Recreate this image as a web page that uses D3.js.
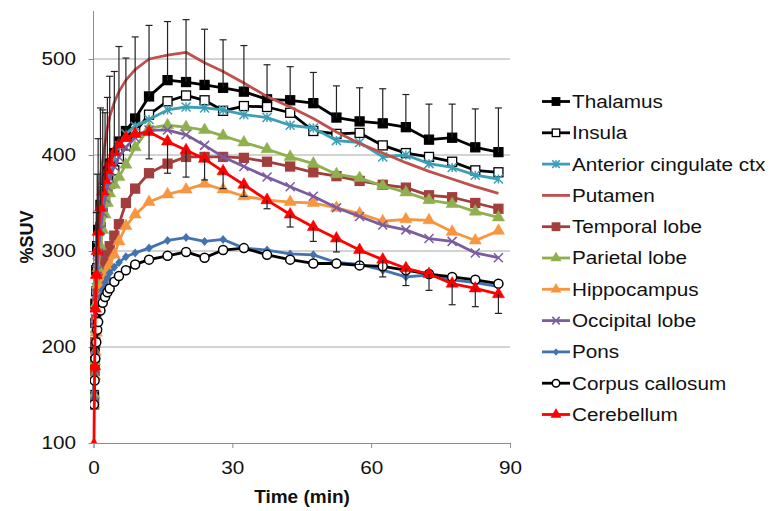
<!DOCTYPE html>
<html lang='en'>
<head>
  <title>%SUV time curves</title>
  <script src='https://cdn.jsdelivr.net/npm/d3@7'></script>
  <style>
    body { margin: 0; background: #fff; }
    text { font-family: "Liberation Sans", Arial, sans-serif; fill: #111; }
  </style>
</head>
<body>
  <script>
    // frame mid-times (min)
    const times = [0.1, 0.25, 0.4, 0.6, 0.8, 1.0, 1.5, 2, 2.5, 3, 3.5, 4.5, 5.5, 7, 9,
      12, 16, 20, 24, 28,
      32.5, 37.5, 42.5, 47.5, 52.5, 57.5, 62.5, 67.5, 72.5, 77.5, 82.5, 87.5];

    const thalamus = [150, 200, 245, 280, 305, 322, 348, 362, 374, 383, 391, 402, 414, 425, 438,
      461, 478, 476, 473, 470,
      466, 458, 457, 454, 439, 435, 433, 429, 416, 418, 408, 403];
    const thalamusErr = [0, 0, 0, 60, 75, 95, 101, 85, 70, 77, 91, 85, 99, 76, 85,
      74, 61, 65, 58, 50,
      48, 36, 35, 32, 33, 35, 36, 34, 37, 35, 40, 46];
    const insula = [145, 185, 225, 258, 282, 300, 325, 340, 352, 362, 370, 384, 396, 410, 424,
      442, 456, 462, 457, 446,
      451, 450, 444, 425, 422, 423, 410, 402, 398, 393, 384, 382];
    const anteriorCingulate = [145, 190, 230, 262, 288, 305, 330, 346, 360, 372, 382, 398, 410, 422, 430,
      437, 447, 450, 449, 447,
      442, 439, 431, 428, 415, 413, 398, 400, 391, 387, 379, 375];
    const putamen = [160, 220, 265, 300, 330, 350, 378, 395, 412, 428, 440, 455, 466, 478, 489,
      500, 504, 507, 496, 487,
      475, 461, 450, 438, 424, 412, 402, 392, 383, 375, 367, 360];
    const temporalLobe = [140, 175, 205, 228, 245, 258, 270, 280, 290, 298, 305, 316, 328, 350, 365,
      381, 391, 398, 398, 398,
      397, 393, 388, 382, 378, 373, 369, 366, 358, 356, 350, 344];
    const parietalLobe = [150, 185, 218, 245, 265, 282, 305, 322, 338, 350, 360, 369, 377, 390, 408,
      428, 431, 429, 426, 420,
      413, 406, 398, 391, 380, 376, 368, 361, 353, 349, 341, 335];
    const hippocampus = [140, 170, 195, 215, 230, 242, 255, 265, 272, 280, 286, 296, 310, 326, 338,
      351, 359, 364, 370, 364,
      357, 353, 351, 350, 345, 339, 331, 333, 332, 320, 311, 321];
    const occipitalLobe = [150, 190, 225, 255, 280, 298, 322, 340, 355, 367, 376, 388, 398, 408, 418,
      426, 426, 421, 410, 398,
      388, 377, 367, 357, 345, 336, 327, 322, 313, 310, 298, 293];
    const pons = [145, 170, 195, 213, 228, 238, 252, 260, 267, 272, 277, 283, 288, 294, 298,
      303, 311, 314, 310, 312,
      303, 301, 297, 296, 288, 286, 280, 273, 275, 270, 267, 263];
    const corpusCallosum = [140, 165, 188, 205, 218, 226, 238, 246, 252, 257, 261, 268, 274, 280, 286,
      291, 295, 299, 293, 301,
      303, 296, 291, 287, 287, 285, 284, 280, 276, 273, 270, 266];
    const cerebellum = [98, 180, 240, 275, 300, 320, 345, 362, 374, 384, 392, 403, 411, 418, 422,
      424, 414, 405, 396, 383,
      369, 353, 338, 325, 313, 301, 291, 282, 276, 266, 261, 255];
    const cerebellumErr = [0, 0, 0, 0, 0, 0, 0, 0, 0, 0, 0, 0, 0, 0, 0,
      28, 33, 28, 22, 18,
      12, 9, 13, 15, 14, 15, 18, 18, 17, 22, 19, 20];

    const xTicks = [0, 30, 60, 90];
    const yTicks = [100, 200, 300, 400, 500];

    const series = [
      { name: "Thalamus", values: thalamus, color: "#000000", marker: "square", fill: "#000000", errUp: thalamusErr },
      { name: "Insula", values: insula, color: "#000000", marker: "square", fill: "#ffffff" },
      { name: "Anterior cingulate ctx", values: anteriorCingulate, color: "#3c9fb5", marker: "star" },
      { name: "Putamen", values: putamen, color: "#c0504d", marker: "none" },
      { name: "Temporal lobe", values: temporalLobe, color: "#a23f3d", marker: "square", fill: "#a23f3d" },
      { name: "Parietal lobe", values: parietalLobe, color: "#8fb04e", marker: "triangle", fill: "#8fb04e" },
      { name: "Hippocampus", values: hippocampus, color: "#f7963f", marker: "triangle", fill: "#f7963f" },
      { name: "Occipital lobe", values: occipitalLobe, color: "#7c5ca0", marker: "cross" },
      { name: "Pons", values: pons, color: "#4273b0", marker: "diamond", fill: "#4273b0" },
      { name: "Corpus callosum", values: corpusCallosum, color: "#000000", marker: "circle", fill: "#ffffff" },
      { name: "Cerebellum", values: cerebellum, color: "#ff0000", marker: "triangle", fill: "#ff0000", errDown: cerebellumErr }
    ];

    const width = 773, height = 511;
    const stretch = 1.12; // the original text is a bit wider than Arial
    const svg = d3.select("body").append("svg")
      .attr("width", width).attr("height", height);

    const x = d3.scaleLinear().domain([0, 90]).range([93.5, 510]);
    const y = d3.scaleLinear().domain([100, 550]).range([443, 11]);

    svg.append("clipPath").attr("id", "plot")
      .append("rect").attr("x", 90).attr("y", 0).attr("width", 430).attr("height", 443);

    // gridlines
    svg.append("g").selectAll("line").data(yTicks.slice(1)).join("line")
      .attr("x1", x(0)).attr("x2", x(90))
      .attr("y1", d => y(d)).attr("y2", d => y(d))
      .attr("stroke", "#a6a6a6").attr("stroke-width", 1);

    // axes
    const yAxis = svg.append("g").attr("transform", `translate(${x(0)},0)`)
      .call(d3.axisLeft(y).tickValues(yTicks).tickSize(5).tickPadding(12));
    const xAxis = svg.append("g").attr("transform", `translate(0,${y(100)})`)
      .call(d3.axisBottom(x).tickValues(xTicks).tickSize(5).tickPadding(13));
    [xAxis, yAxis].forEach(a => {
      a.select(".domain").attr("stroke", "#8c8c8c");
      a.selectAll(".tick line").attr("stroke", "#8c8c8c");
      a.selectAll(".tick text").attr("font-size", 18.5).attr("fill", "#222")
        .attr("font-family", '"Liberation Sans", Arial, sans-serif')
        .attr("transform", `scale(${stretch},1)`);
    });
    yAxis.selectAll(".tick text").attr("x", -17.5 / stretch);
    yAxis.select(".domain").attr("d", `M0,${y(100)}V${y(550)}`);

    // axis titles
    svg.append("text").text("Time (min)")
      .attr("x", 302).attr("y", 503)
      .attr("text-anchor", "middle").attr("font-size", 19).attr("font-weight", "bold");
    svg.append("text").text("%SUV")
      .attr("transform", "translate(33,237) rotate(-90)")
      .attr("text-anchor", "middle").attr("font-size", 18).attr("font-weight", "bold");

    // marker drawing
    function drawMarker(g, s, size) {
      const r = size / 2;
      if (s.marker === "square") {
        g.append("rect").attr("x", -r).attr("y", -r).attr("width", size).attr("height", size)
          .attr("fill", s.fill).attr("stroke", s.color).attr("stroke-width", 1.3);
      } else if (s.marker === "triangle") {
        g.append("path").attr("d", d3.symbol(d3.symbolTriangle, size * size * 0.8)())
          .attr("fill", s.fill).attr("stroke", s.color).attr("stroke-width", 0.5);
      } else if (s.marker === "diamond") {
        g.append("path").attr("d", `M0,${-r}L${r * 0.85},0L0,${r}L${-r * 0.85},0Z`)
          .attr("fill", s.fill);
      } else if (s.marker === "circle") {
        g.append("circle").attr("r", r)
          .attr("fill", s.fill).attr("stroke", s.color).attr("stroke-width", 1.5);
      } else if (s.marker === "star") {
        g.append("path").attr("d", `M${-r},${-r}L${r},${r}M${-r},${r}L${r},${-r}M0,${-r}V${r}`)
          .attr("stroke", s.color).attr("stroke-width", 1.5).attr("fill", "none");
      } else if (s.marker === "cross") {
        g.append("path").attr("d", `M${-r},${-r}L${r},${r}M${-r},${r}L${r},${-r}`)
          .attr("stroke", s.color).attr("stroke-width", 1.5).attr("fill", "none");
      }
    }

    const plot = svg.append("g").attr("clip-path", "url(#plot)");
    const line = d3.line().x(d => x(d[0])).y(d => y(d[1]));

    series.forEach(s => {
      const pts = times.map((t, i) => [t, s.values[i]]);
      const g = plot.append("g");
      g.append("path").datum(pts).attr("d", line)
        .attr("fill", "none").attr("stroke", s.color).attr("stroke-width", 2.8)
        .attr("stroke-linejoin", "round");
      if (s.marker !== "none") {
        g.selectAll(".m").data(pts).join("g")
          .attr("transform", d => `translate(${x(d[0])},${y(d[1])})`)
          .each(function () { drawMarker(d3.select(this), s, 9); });
      }
    });

    // error bars
    const bars = plot.append("g").attr("stroke", "#222").attr("stroke-width", 1.2);
    series.forEach(s => {
      const err = s.errUp || s.errDown;
      if (!err) return;
      const sign = s.errUp ? 1 : -1;
      times.forEach((t, i) => {
        if (!err[i]) return;
        const cx = x(t), y0 = y(s.values[i]), y1 = y(s.values[i] + sign * err[i]);
        bars.append("line").attr("x1", cx).attr("x2", cx).attr("y1", y0).attr("y2", y1);
        bars.append("line").attr("x1", cx - 3.5).attr("x2", cx + 3.5).attr("y1", y1).attr("y2", y1);
      });
    });

    // legend
    const legend = svg.append("g").attr("transform", "translate(542,101.5)");
    const rows = legend.selectAll("g").data(series).join("g")
      .attr("transform", (d, i) => `translate(0,${i * 31.3})`);
    rows.append("line").attr("x1", 0).attr("x2", 28)
      .attr("stroke", d => d.color).attr("stroke-width", 2.8);
    rows.each(function (d) {
      if (d.marker === "none") return;
      const m = d3.select(this).append("g").attr("transform", "translate(14,0)");
      drawMarker(m, d, 7.5);
    });
    rows.append("text").text(d => d.name)
      .attr("transform", `translate(30,0) scale(${stretch},1)`)
      .attr("dy", "0.35em").attr("font-size", 18.5);
  </script>
</body>
</html>
